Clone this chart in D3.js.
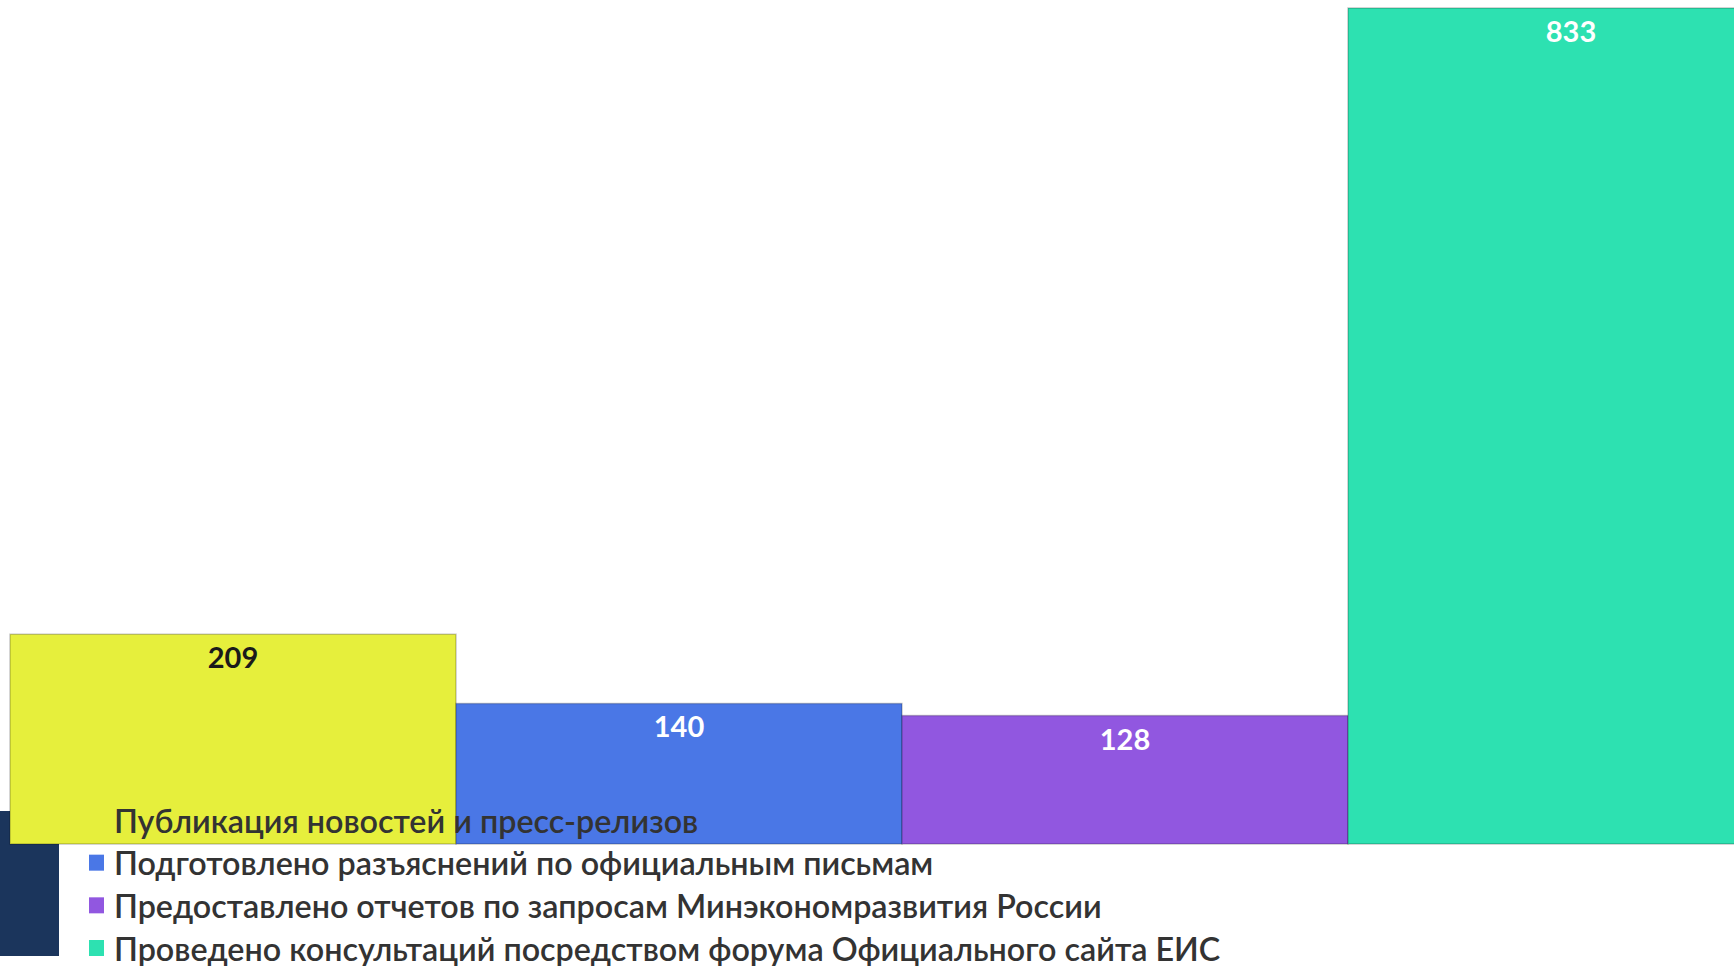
<!DOCTYPE html>
<html>
<head>
<meta charset="utf-8">
<script src="https://cdn.jsdelivr.net/npm/d3@7"></script>
<style>
  html, body { margin: 0; padding: 0; background: #ffffff; overflow: hidden; }
  svg { display: block; }
</style>
</head>
<body>
<svg id="chart" width="1734" height="966"></svg>
<script>
// Activity categories and their counts
const categories = [
  "Публикация новостей и пресс-релизов",
  "Подготовлено разъяснений по официальным письмам",
  "Предоставлено отчетов по запросам Минэкономразвития России",
  "Проведено консультаций посредством форума Официального сайта ЕИС"
];
const values = [209, 140, 128, 833];
const colors = ["#e6ef3c", "#4a77e6", "#9157e0", "#2de1b1"];
const labelColors = ["#1a1a1a", "#ffffff", "#ffffff", "#ffffff"];

const svg = d3.select("#chart");

const x = d3.scaleBand()
  .domain(categories)
  .range([10, 10 + 4 * 446])
  .paddingInner(0)
  .paddingOuter(0);

const y = d3.scaleLinear()
  .domain([0, d3.max(values)])
  .range([844, 8]);

// dark accent block at lower left
svg.append("rect")
  .attr("x", 0).attr("y", 811)
  .attr("width", 59).attr("height", 145)
  .attr("fill", "#1b355c");

const data = categories.map((c, i) => ({ cat: c, value: values[i], color: colors[i], lc: labelColors[i] }));

// bars
svg.append("g").selectAll("rect")
  .data(data)
  .join("rect")
  .attr("x", d => x(d.cat))
  .attr("y", d => y(d.value))
  .attr("width", x.bandwidth())
  .attr("height", d => y(0) - y(d.value))
  .attr("fill", d => d.color)
  .attr("stroke", "rgba(0,0,0,0.22)")
  .attr("stroke-width", 1.5);

// value labels
svg.append("g").selectAll("text")
  .data(data)
  .join("text")
  .attr("x", d => x(d.cat) + x.bandwidth() / 2)
  .attr("y", d => y(d.value) + 34)
  .attr("text-anchor", "middle")
  .attr("font-family", "Lato, 'Open Sans', sans-serif")
  .attr("font-weight", 700)
  .attr("font-size", 29)
  .attr("fill", d => d.lc)
  .text(d => d.value);

// legend
const legend = svg.append("g");
const legY = d3.scalePoint().domain(categories).range([820, 948]);
const items = legend.selectAll("g")
  .data(data)
  .join("g")
  .attr("transform", d => `translate(0, ${legY(d.cat)})`);

items.append("rect")
  .attr("x", 89).attr("y", -8)
  .attr("width", 15).attr("height", 16)
  .attr("fill", d => d.color);

const texts = items.append("text")
  .attr("x", 114)
  .attr("y", 0)
  .attr("dominant-baseline", "central")
  .attr("font-family", "Lato, 'Open Sans', sans-serif")
  .attr("font-weight", 600)
  .attr("font-size", 30)
  .attr("fill", "#333333")
  .text(d => d.cat);

// size legend text so the longest entry spans its row
const longest = texts.nodes()[3];
const w = longest.getComputedTextLength();
texts.attr("font-size", 30 * 1107 / w);
</script>
</body>
</html>
